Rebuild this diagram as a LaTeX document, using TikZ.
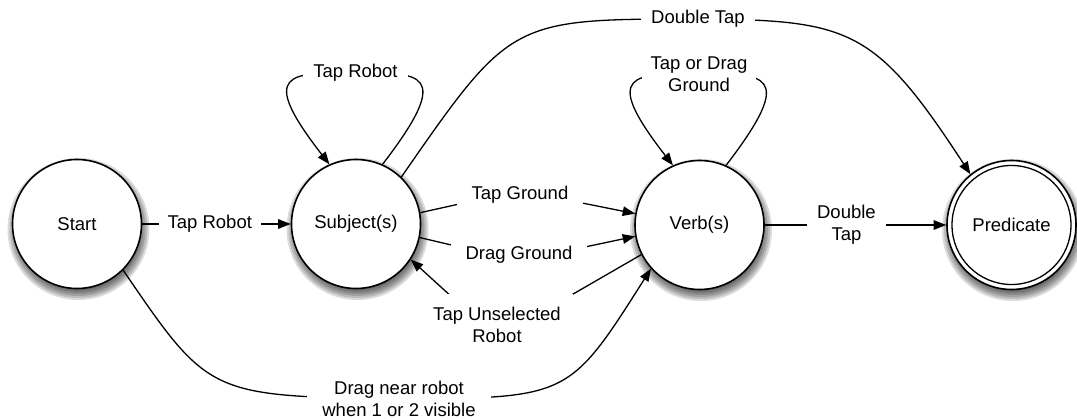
\documentclass[tikz,border=0pt]{standalone}
\usepackage{fontspec}
\setmainfont{Liberation Sans}
\usetikzlibrary{arrows.meta,calc,backgrounds}
\begin{document}
\begin{tikzpicture}[x=1pt,y=-1pt,
  font=\fontsize{18.5}{22}\selectfont,
  state/.style={circle,draw,line width=1.6pt,fill=white,minimum size=129pt,inner sep=0pt},
  shade ring/.style={fill=black,opacity=0.14},
  conn/.style={line width=1.3pt},
  arr/.style={conn,-{Triangle[length=12.5pt,width=9.5pt]}},
  lbl/.style={fill=white,align=center,inner xsep=10pt,inner ysep=3pt}]
\useasboundingbox (0,0) rectangle (1077,419);

% states
\node[state] (st) at (77,224) {Start};
\node[state] (su) at (356,224) {Subject(s)};
\node[state] (ve) at (699.5,225) {Verb(s)};
\node[state] (pr) at (1011.5,225) {Predicate};
\draw[line width=1.3pt] (pr.center) circle[radius=59.5pt];

% soft drop shadows
\begin{scope}[on background layer]
  \foreach \n in {st,su,ve,pr}{
    \foreach \r in {61,63,65,67,69,71}{
      \fill[shade ring] ($(\n)+(1.5,5)$) circle[radius=\r pt];
    }
  }
\end{scope}

% Start -> Subject
\draw[arr] (st) -- node[lbl,pos=0.455,inner xsep=9pt]{Tap Robot} (su);

% Subject self loop
\draw[arr] (su.66) .. controls ($(su)+(99,-154)$) and ($(su)+(64,-151)$) ..
  ($(su)+(-0.5,-151)$) node[lbl,inner xsep=10pt]{Tap Robot}
  .. controls ($(su)+(-65,-151)$) and ($(su)+(-100,-154)$) .. (su.114);

% Verb self loop
\draw[arr] (ve.66) .. controls ($(ve)+(99,-154)$) and ($(ve)+(64,-151)$) ..
  ($(ve)+(-0.5,-151)$) node[lbl,inner xsep=9pt]{Tap or Drag\\Ground}
  .. controls ($(ve)+(-65,-151)$) and ($(ve)+(-100,-154)$) .. (ve.114);

% Subject -> Predicate (Double Tap)
\draw[arr] (su.46) .. controls (511,19) .. (698,19) node[lbl,inner xsep=10pt]{Double Tap}
  .. controls (850,20) and (875,28) .. (pr.129);

% Subject -> Verb
\draw[arr] (su.10) -- (520,190.5) node[lbl,inner xsep=15pt,yshift=-4pt]{Tap Ground} -- (ve.170);
\draw[arr] (su.-12) -- (519,261) node[lbl,inner xsep=15pt,yshift=6pt]{Drag Ground} -- (ve.190);

% Verb -> Subject
\draw[arr] (ve.207) -- (497,338) node[lbl,inner xsep=12pt,inner ysep=13pt,yshift=13.5pt]{Tap Unselected\\Robot} -- (su.-33);

% Start -> Verb
\draw[arr] (st.-45) .. controls (209,396) .. (399,399)
  node[lbl,inner xsep=15pt]{Drag near robot\\when 1 or 2 visible}
  .. controls (569,398) .. (ve.222);

% Verb -> Predicate
\draw[arr] (ve) -- node[lbl,pos=0.45]{Double\\Tap} (pr);
\end{tikzpicture}
\end{document}
